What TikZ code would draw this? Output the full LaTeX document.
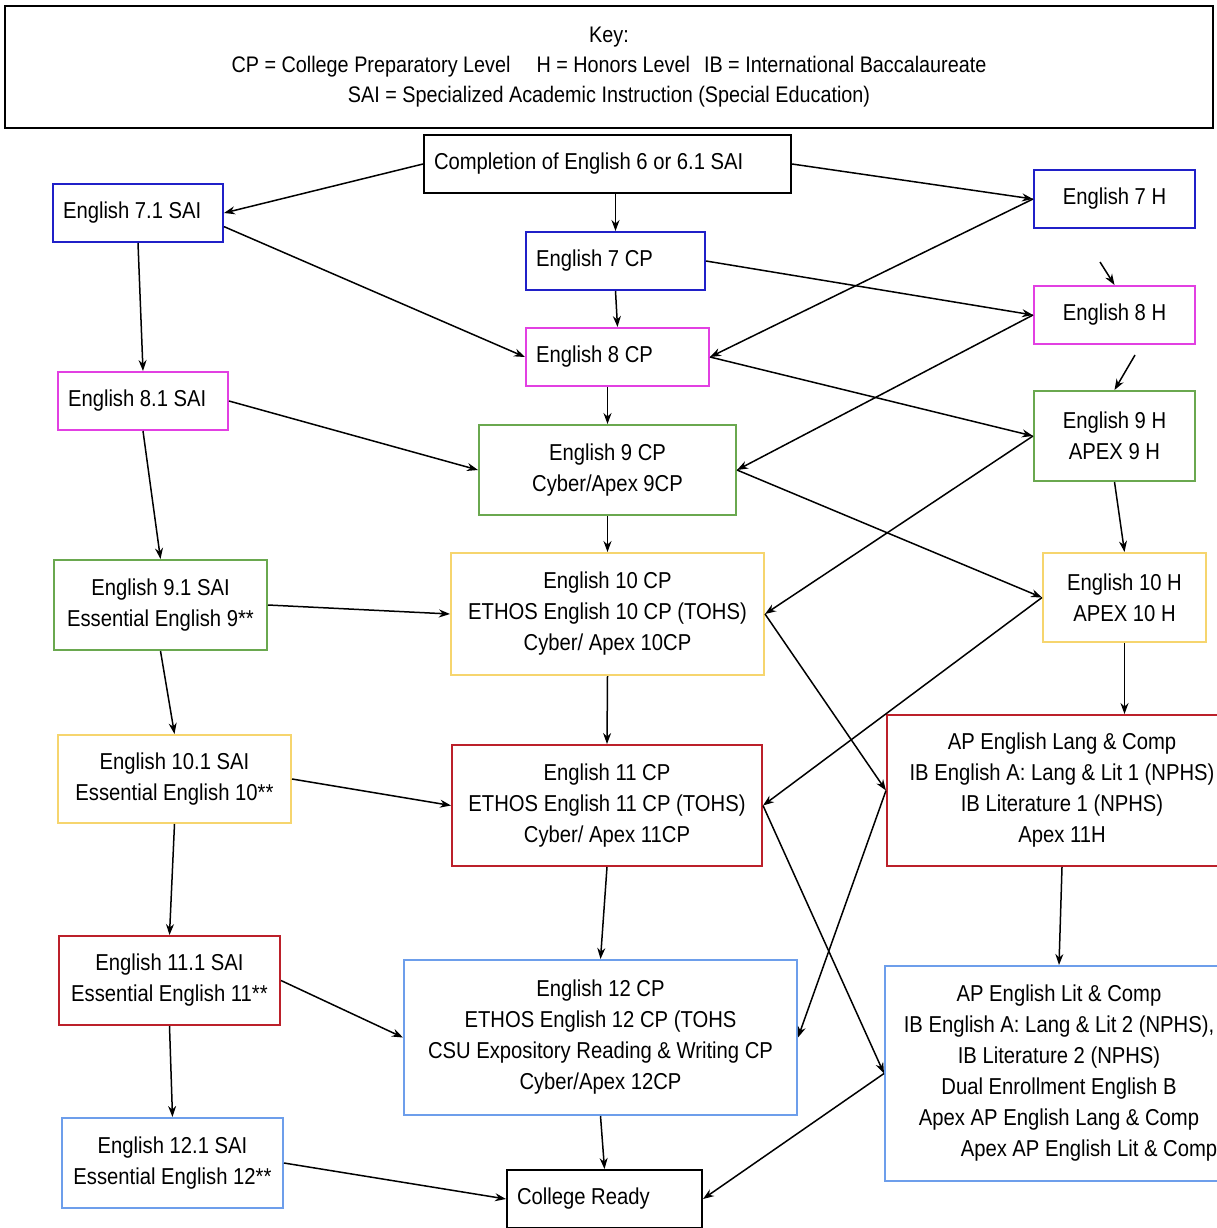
\documentclass[tikz,border=0pt]{standalone}
\usepackage{fontspec}
\setmainfont[FakeStretch=0.88]{Liberation Sans}
\usepackage{xcolor}
\usetikzlibrary{arrows.meta, calc}

\definecolor{lvblue}{RGB}{32,32,200}
\definecolor{lvmagenta}{RGB}{226,64,226}
\definecolor{lvgreen}{RGB}{106,168,79}
\definecolor{lvyellow}{RGB}{246,213,110}
\definecolor{lvred}{RGB}{188,32,42}
\definecolor{lvsky}{RGB}{109,158,235}

\begin{document}
\begin{tikzpicture}[
    x=1pt, y=-1pt,
    course/.style={draw, rectangle, line width=2pt, align=center, inner sep=10pt, font=\fontsize{23}{31}\selectfont},
    leftcourse/.style={course, align=flush left, text width=#1},
    arrow/.style={line width=1.5pt, ->, >={Stealth[length=11pt, width=8pt]}}
]
\useasboundingbox (0,0) rectangle (1216,1228);

% Key
\node[course, minimum width=1208pt, minimum height=122pt, font=\fontsize{22.5}{30}\selectfont] (key) at (609,67)
    {Key:\\CP = College Preparatory Level\hspace{26pt}H = Honors Level\hspace{14pt}IB = International Baccalaureate\\SAI = Specialized Academic Instruction (Special Education)};

% Start
\node[leftcourse=347pt, minimum height=58pt] (comp) at (607.5,164) {Completion of English 6 or 6.1 SAI};

% Grade 7
\node[leftcourse=150pt, minimum height=58pt, lvblue] (e71) at (138,213) {\color{black}English 7.1 SAI};
\node[leftcourse=159pt, minimum height=58pt, lvblue] (e7cp) at (615.5,261) {\color{black}English 7 CP};
\node[course, minimum width=161pt, minimum height=58pt, lvblue] (e7h) at (1114.5,199) {\color{black}English 7 H};

% Grade 8
\node[leftcourse=150pt, minimum height=58pt, lvmagenta] (e81) at (143,401) {\color{black}English 8.1 SAI};
\node[leftcourse=163pt, minimum height=58pt, lvmagenta] (e8cp) at (617.5,357) {\color{black}English 8 CP};
\node[course, minimum width=161pt, minimum height=58pt, lvmagenta] (e8h) at (1114.5,315) {\color{black}English 8 H};

% Grade 9
\node[course, minimum width=213pt, minimum height=90pt, lvgreen] (e91) at (160.5,605) {\color{black}English 9.1 SAI\\\color{black}Essential English 9**};
\node[course, minimum width=257pt, minimum height=90pt, lvgreen] (e9cp) at (607.5,470) {\color{black}English 9 CP\\\color{black}Cyber/Apex 9CP};
\node[course, minimum width=161pt, minimum height=90pt, lvgreen] (e9h) at (1114.5,436) {\color{black}English 9 H\\\color{black}APEX 9 H};

% Grade 10
\node[course, minimum width=233pt, minimum height=88pt, lvyellow] (e101) at (174.5,779) {\color{black}English 10.1 SAI\\\color{black}Essential English 10**};
\node[course, minimum width=313pt, minimum height=122pt, lvyellow] (e10cp) at (607.5,614) {\color{black}English 10 CP\\\color{black}ETHOS English 10 CP (TOHS)\\\color{black}Cyber/ Apex 10CP};
\node[course, minimum width=163pt, minimum height=89pt, lvyellow] (e10h) at (1124.5,597.5) {\color{black}English 10 H\\\color{black}APEX 10 H};

% Grade 11
\node[course, minimum width=221pt, minimum height=89pt, lvred] (e111) at (169.5,980.5) {\color{black}English 11.1 SAI\\\color{black}Essential English 11**};
\node[course, minimum width=310pt, minimum height=121pt, lvred] (e11cp) at (607,805.5) {\color{black}English 11 CP\\\color{black}ETHOS English 11 CP (TOHS)\\\color{black}Cyber/ Apex 11CP};
\node[course, minimum width=350pt, minimum height=151pt, lvred] (aplang) at (1062,790.5) {\color{black}AP English Lang \& Comp\\\color{black}IB English A: Lang \& Lit 1 (NPHS)\\\color{black}IB Literature 1 (NPHS)\\\color{black}Apex 11H};

% Grade 12
\node[course, minimum width=221pt, minimum height=90pt, lvsky] (e121) at (172.5,1163) {\color{black}English 12.1 SAI\\\color{black}Essential English 12**};
\node[course, minimum width=393pt, minimum height=155pt, lvsky] (e12cp) at (600.5,1037.5) {\color{black}English 12 CP\\\color{black}ETHOS English 12 CP (TOHS\\\color{black}CSU Expository Reading \& Writing CP\\\color{black}Cyber/Apex 12CP};
\node[course, minimum width=348pt, minimum height=215pt, lvsky] (aplit) at (1059,1073.5) {\color{black}AP English Lit \& Comp\\\color{black}IB English A: Lang \& Lit 2 (NPHS),\\\color{black}IB Literature 2 (NPHS)\\\color{black}Dual Enrollment English B\\\color{black}Apex AP English Lang \& Comp\\\color{black}\hspace*{60pt}Apex AP English Lit \& Comp};

% Finish
\node[leftcourse=175pt, minimum height=58pt] (ready) at (604.5,1199) {College Ready};

% free ends of the two loose arrows
\coordinate (loose1) at (1100,262);
\coordinate (loose2) at (1135,355);

% Connections
\draw[arrow] (comp.west) -- (e71.east);
\draw[arrow] (comp.east) -- (e7h.west);
\draw[arrow] (e7cp.north |- comp.south) -- (e7cp.north);
\draw[arrow] (e71.south) -- (e81.north);
\draw[arrow] (e71.-9) -- (e8cp.west);
\draw[arrow] (e7cp.south) -- (e8cp.north);
\draw[arrow] (e7cp.east) -- (e8h.west);
\draw[arrow] (e7h.west) -- (e8cp.east);
\draw[arrow] (e8cp.east) -- (e9h.west);
\draw[arrow] (e8h.west) -- (e9cp.east);
\draw[arrow] (e9cp.north |- e8cp.south) -- (e9cp.north);
\draw[arrow] (e81.east) -- (e9cp.west);
\draw[arrow] (e81.south) -- (e91.north);
\draw[arrow] (e9cp.south) -- (e10cp.north);
\draw[arrow] (e9cp.east) -- (e10h.west);
\draw[arrow] (e9h.west) -- (e10cp.east);
\draw[arrow] (e9h.south) -- (e10h.north);
\draw[arrow] (e91.east) -- (e10cp.west);
\draw[arrow] (e91.south) -- (e101.north);
\draw[arrow] (e10cp.south) -- (e11cp.north);
\draw[arrow] (e10cp.east) -- (aplang.west);
\draw[arrow] (e10h.west) -- (e11cp.east);
\draw[arrow] (e10h.south) -- (e10h.south |- aplang.north);
\draw[arrow] (e101.east) -- (e11cp.west);
\draw[arrow] (e101.south) -- (e111.north);
\draw[arrow] (e11cp.south) -- (e12cp.north);
\draw[arrow] (e11cp.east) -- (aplit.west);
\draw[arrow] (aplang.west) -- (e12cp.east);
\draw[arrow] (aplang.south) -- (aplit.north);
\draw[arrow] (e111.east) -- (e12cp.west);
\draw[arrow] (e111.south) -- (e121.north);
\draw[arrow] (e12cp.south) -- (ready.north);
\draw[arrow] (e121.east) -- (ready.west);
\draw[arrow] (aplit.west) -- (ready.east);
\draw[arrow] (loose1) -- (e8h.north);
\draw[arrow] (loose2) -- (e9h.north);

\end{tikzpicture}
\end{document}
